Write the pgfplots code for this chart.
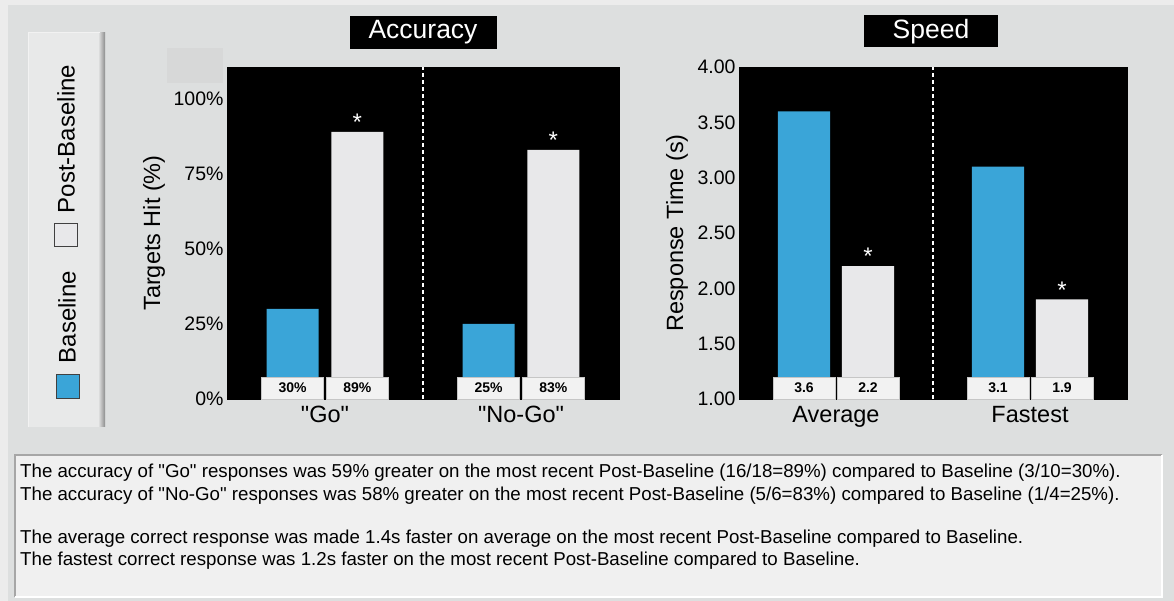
\documentclass[border=0pt]{standalone}
\usepackage{fontspec}
\setmainfont{Liberation Sans}
\usepackage{pgfplots}
\pgfplotsset{compat=1.18}

\definecolor{bg}{HTML}{DDDFDF}
\definecolor{bgl}{HTML}{ECECEC}
\definecolor{bgd}{HTML}{D7D8D8}
\definecolor{blu}{HTML}{3AA5D8}
\definecolor{post}{HTML}{E8E8EA}
\definecolor{lbox}{HTML}{F2F2F2}
\definecolor{tbox}{HTML}{F0F0F0}
\definecolor{panel}{HTML}{E8E9E9}

\newcommand{\fs}[1]{\fontsize{#1}{#1}\selectfont}
\newcommand{\q}{\textquotedbl}

\pgfplotsset{
  panel/.style={
    scale only axis, height=332pt,
    axis background/.style={fill=black},
    axis line style={draw=black},
    xmin=0, xmax=4, enlargelimits=false,
    xtick={1,3}, major tick length=0pt,
    /pgf/number format/assume math mode=true,
    yticklabel style={font=\fs{19.5}},
    xticklabel style={font=\fs{23.5}, yshift=-4pt},
    every axis y label/.style={at={(axis description cs:0,0.5)}, rotate=90, anchor=center, font=\fs{23.5}},
  },
  lab/.style={ybar, bar width=0.53, bar shift=0pt, draw=none, fill=none,
    nodes near coords, point meta=explicit symbolic,
    every node near coord/.append style={anchor=south, fill=lbox, draw=gray!45,
      inner sep=0pt, minimum width=62pt, minimum height=22pt, font=\bfseries\fs{14}, text=black}},
  star/.style={nodes near coords, point meta=explicit symbolic,
    every node near coord/.append style={anchor=south, inner sep=1pt, font=\fs{24}, text=white}},
}

\begin{document}
\begin{tikzpicture}[x=1pt,y=1pt]
% background
\fill[bgl] (0,0) rectangle (1174,601);
\fill[bg] (8,0) rectangle (1174,596);
% legend panel
\fill[panel] (28,174) rectangle (105,568);
\shade[left color=panel, right color=black!45] (98,174) rectangle (105,568);
\draw[white!90!gray, line width=1pt] (28,174) -- (28,568) -- (100,568);
\filldraw[fill=blu, draw=black!75, line width=0.8pt] (56,203) rectangle (79,227);
\filldraw[fill=post, draw=black!75, line width=0.8pt] (54,355) rectangle (77,378);
\node[rotate=90, font=\fs{24}, inner sep=0] at (67,284) {Baseline};
\node[rotate=90, font=\fs{24}, inner sep=0] at (66,462) {Post-Baseline};
% faint square
\fill[bgd] (167,518) rectangle (223,553);
% titles
\node[fill=black, text=white, minimum width=147pt, minimum height=32.5pt, inner sep=0pt, font=\fs{26.5}] at (423,568.7) {Accuracy};
\node[fill=black, text=white, minimum width=134pt, minimum height=32.3pt, inner sep=0pt, font=\fs{26.5}] at (931,569.8) {Speed};

% Accuracy
\begin{axis}[panel, at={(227pt,202pt)}, anchor=south west, width=392pt,
  ymin=0, ymax=110.67, ytick={0,25,50,75,100},
  yticklabel={\pgfmathprintnumber{\tick}\%},
  xticklabels={{\q Go\q},{\q No-Go\q}},
  ylabel={Targets Hit (\%)}, ylabel style={yshift=73pt}]
\addplot[ybar, bar width=0.53, bar shift=0pt, fill=blu, draw=none] coordinates {(0.67,30) (2.67,25)};
\addplot[ybar, bar width=0.53, bar shift=0pt, fill=post, draw=none, star] coordinates {(1.33,89) [*] (3.33,83) [*]};
\addplot[lab] coordinates {(0.67,0) [30\%] (2.67,0) [25\%]};
\addplot[lab] coordinates {(1.33,0) [89\%] (3.33,0) [83\%]};
\draw[white, dash pattern=on 4pt off 3pt, line width=1.2pt] (axis cs:2,0) -- (axis cs:2,110.67);
\end{axis}

% Speed
\begin{axis}[panel, at={(739pt,202pt)}, anchor=south west, width=388pt,
  ymin=1, ymax=4, ytick={1,1.5,2,2.5,3,3.5,4},
  yticklabel style={/pgf/number format/.cd, fixed, fixed zerofill, precision=2},
  xticklabels={Average,Fastest},
  ylabel={Response Time (s)}, ylabel style={yshift=62pt}]
\addplot[ybar, bar width=0.54, bar shift=0pt, fill=blu, draw=none] coordinates {(0.67,3.6) (2.67,3.1)};
\addplot[ybar, bar width=0.54, bar shift=0pt, fill=post, draw=none, star] coordinates {(1.33,2.2) [*] (3.33,1.9) [*]};
\addplot[lab] coordinates {(0.67,1) [3.6] (2.67,1) [3.1]};
\addplot[lab] coordinates {(1.33,1) [2.2] (3.33,1) [1.9]};
\draw[white, dash pattern=on 4pt off 3pt, line width=1.2pt] (axis cs:2,1) -- (axis cs:2,4);
\end{axis}

% text box
\fill[tbox] (15,4) rectangle (1162,146);
\draw[black!35, line width=2pt] (15,4) -- (15,146) -- (1162,146);
\draw[white, line width=1.5pt] (15,4) -- (1162,4) -- (1162,146);
\begin{scope}[every node/.style={anchor=base west, inner sep=0pt, font=\fs{18.7}}]
\node at (20,123) {The accuracy of \q Go\q{} responses was 59\% greater on the most recent Post-Baseline (16/18=89\%) compared to Baseline (3/10=30\%).};
\node at (20,100) {The accuracy of \q No-Go\q{} responses was 58\% greater on the most recent Post-Baseline (5/6=83\%) compared to Baseline (1/4=25\%).};
\node at (20,57) {The average correct response was made 1.4s faster on average on the most recent Post-Baseline compared to Baseline.};
\node at (20,35) {The fastest correct response was 1.2s faster on the most recent Post-Baseline compared to Baseline.};
\end{scope}
\end{tikzpicture}
\end{document}
